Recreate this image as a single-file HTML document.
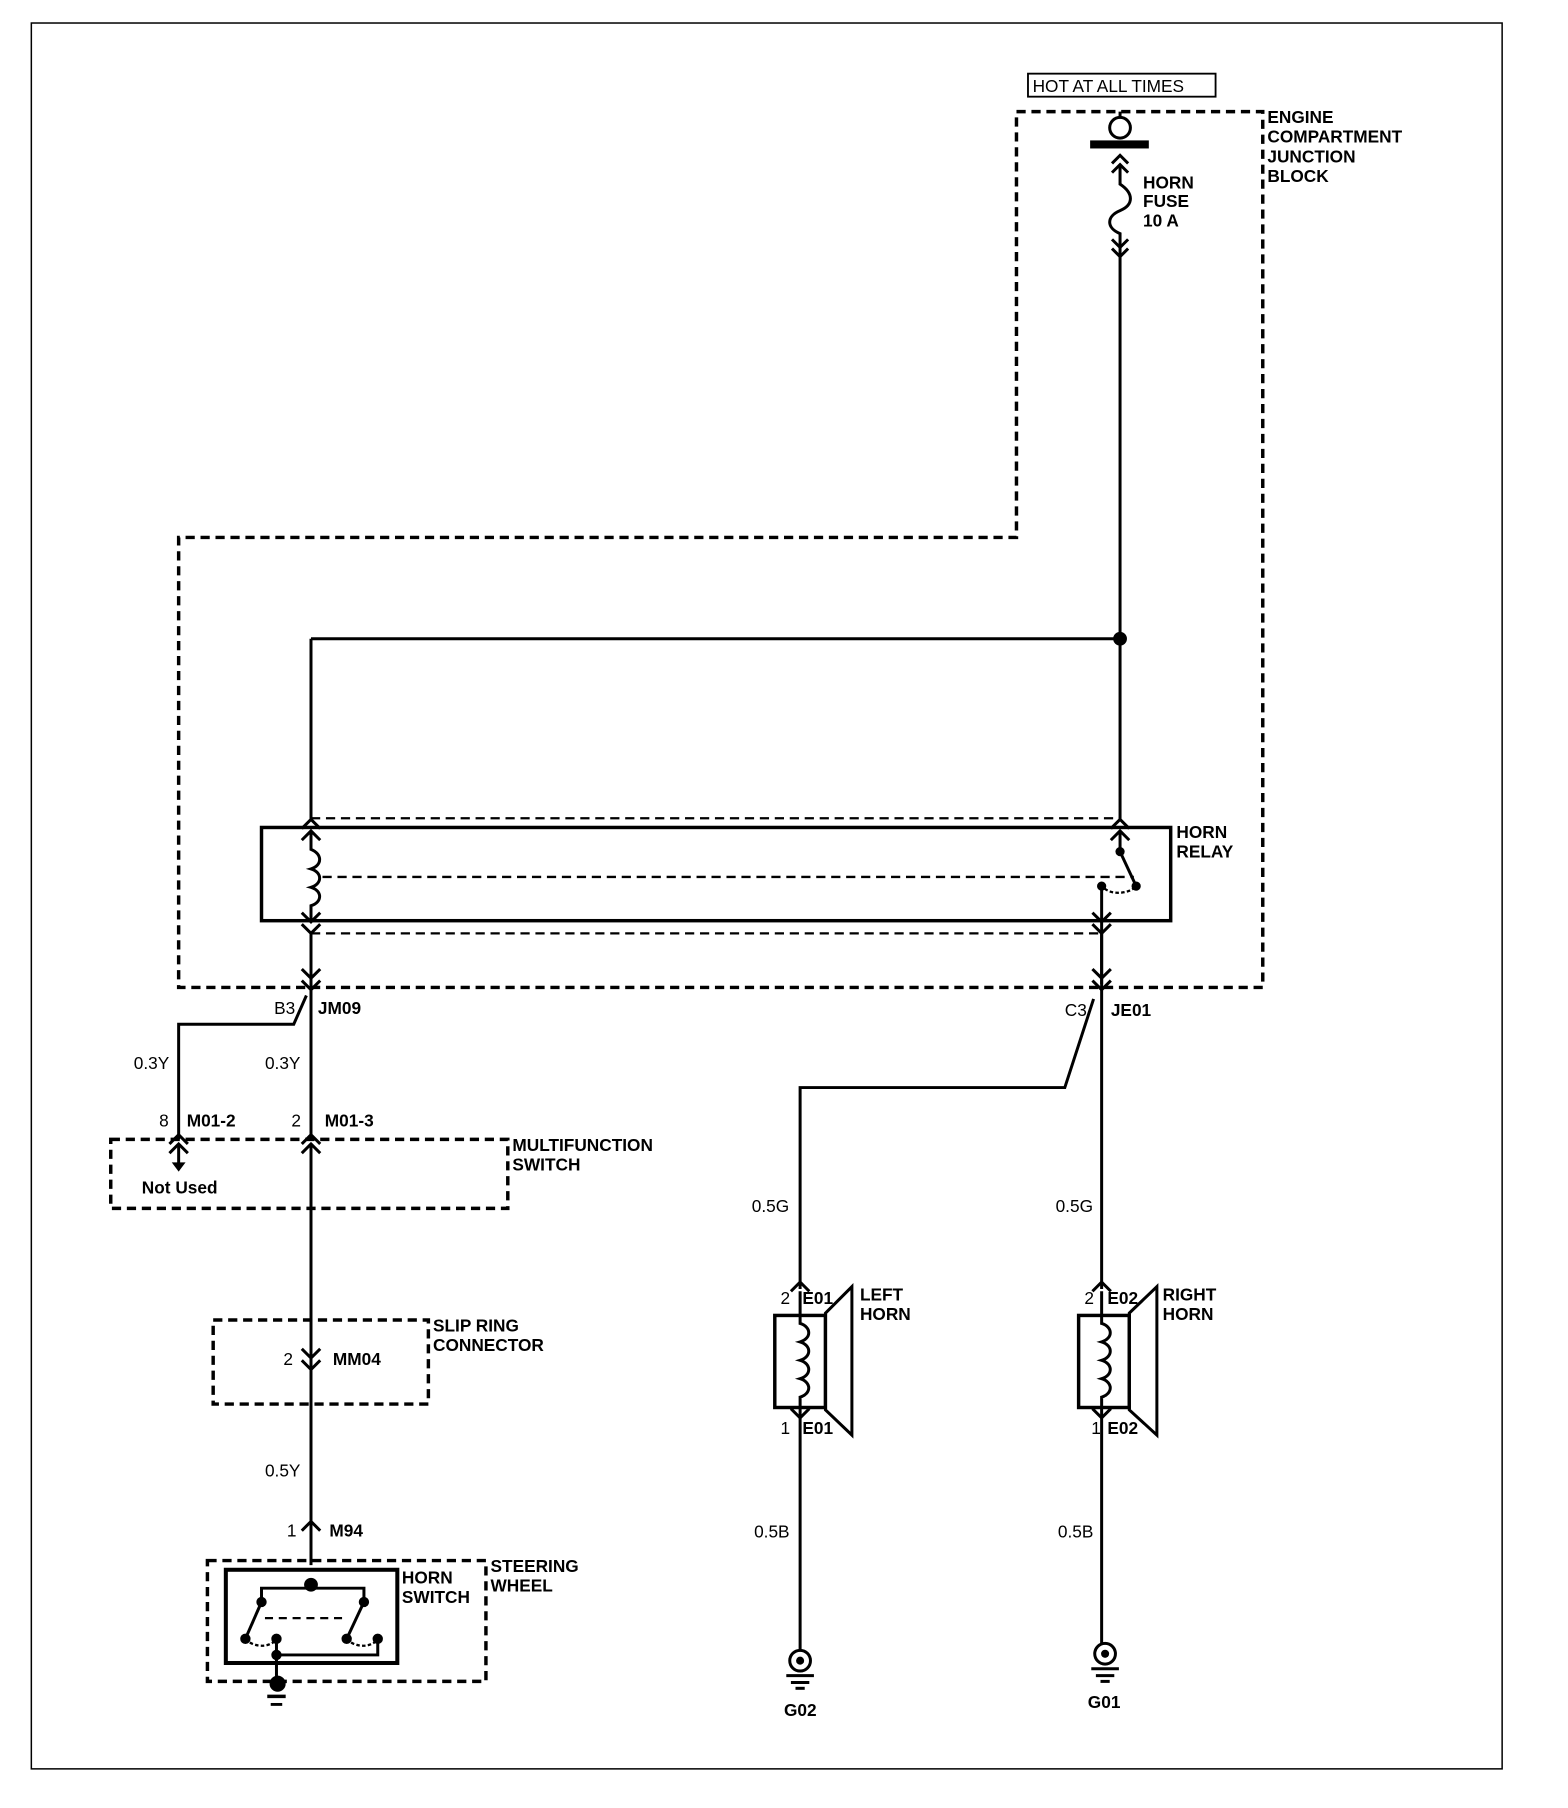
<!DOCTYPE html>
<html><head><meta charset="utf-8"><style>
html,body{margin:0;padding:0;background:#fff}
svg{display:block}
text{font-family:"Liberation Sans",Arial,sans-serif;font-weight:bold;font-size:15px;fill:#000}
.r{font-weight:normal}
</style></head><body>
<svg width="1568" height="1808" viewBox="0 0 1362 1571" xmlns="http://www.w3.org/2000/svg">
<g fill="none" stroke="#000" stroke-width="2.6">
<!-- frame -->
<rect x="27" y="20" width="1278" height="1517" stroke-width="1.3"/>
<!-- hot box -->
<rect x="893" y="64" width="163" height="20" stroke-width="1.6"/>
<!-- engine block dashed -->
<path d="M883,97 L1097,97 L1097,858 L155,858 L155,467 L883,467 Z" stroke-dasharray="8,5" stroke-width="3"/>
<!-- fuse -->
<circle cx="973" cy="111" r="9"/>
<line x1="973" y1="97" x2="973" y2="102"/>
<path d="M966,142 L973,135 L980,142 M966,150 L973,143 L980,150"/>
<path d="M973,143 L973,160 C985,168 985,178 973,183 C961,188 961,198 973,203 L973,222"/>
<path d="M966,208 L973,215 L980,208 M966,216 L973,223 L980,216"/>
<line x1="973" y1="222" x2="973" y2="712"/>
<line x1="270" y1="555" x2="973" y2="555"/>
<line x1="270" y1="555" x2="270" y2="712"/>
<!-- relay -->
<rect x="227" y="719" width="790" height="81" stroke-width="3"/>
<path d="M270,711 L973,711 M270,811 L957,811" stroke-dasharray="8,5" stroke-width="2"/>
<path d="M280,762 L985,762" stroke-dasharray="8,5" stroke-width="2"/>
<path d="M262,720 L270,712 L278,720 M262,730 L270,722 L278,730"/>
<path d="M270,722 L270,738 C280,742 280,752 270,755 C280,758 280,768 270,771 C280,774 280,784 270,787 L270,800"/>
<path d="M262,793 L270,801 L278,793 M262,803 L270,811 L278,803"/>
<path d="M965,720 L973,712 L981,720 M965,730 L973,722 L981,730"/>
<line x1="973" y1="722" x2="973" y2="740"/>
<line x1="973" y1="740" x2="987" y2="770"/>
<path d="M957,768 C960,778 980,778 987,770" stroke-dasharray="3,2" stroke-width="2"/>
<line x1="957" y1="768" x2="957" y2="855"/>
<path d="M949,793 L957,801 L965,793 M949,803 L957,811 L965,803"/>
<!-- JM09 -->
<path d="M262,842 L270,850 L278,842 M262,852 L270,860 L278,852"/>
<line x1="270" y1="811" x2="270" y2="990"/>
<path d="M266,865 L255,890 L155,890 L155,990"/>
<!-- M01 chevrons -->
<path d="M147,994 L155,986 L163,994 M147,1002 L155,994 L163,1002"/>
<path d="M262,994 L270,986 L278,994 M262,1002 L270,994 L278,1002"/>
<line x1="155" y1="994" x2="155" y2="1012"/>
<line x1="270" y1="994" x2="270" y2="1360"/>
<rect x="96" y="990" width="345" height="60" stroke-dasharray="8,5" stroke-width="3"/>
<!-- slip ring -->
<rect x="185" y="1147" width="187" height="73" stroke-dasharray="8,5" stroke-width="3"/>
<path d="M262,1172 L270,1180 L278,1172 M262,1182 L270,1190 L278,1182"/>
<path d="M262,1330 L270,1322 L278,1330"/>
<!-- steering wheel -->
<rect x="180" y="1356" width="242" height="105" stroke-dasharray="8,5" stroke-width="3"/>
<rect x="196" y="1364" width="149" height="81" stroke-width="3.5"/>
<path d="M227,1392 L227,1380 L316,1380 L316,1392"/>
<line x1="227" y1="1392" x2="213" y2="1424"/>
<line x1="316" y1="1392" x2="301" y2="1424"/>
<line x1="230" y1="1406" x2="300" y2="1406" stroke-dasharray="7,5" stroke-width="2"/>
<path d="M213,1424 C220,1432 235,1432 240,1424 M301,1424 C308,1432 323,1432 328,1424" stroke-dasharray="3,2" stroke-width="2"/>
<path d="M240,1424 L240,1464 M240,1438 L328,1438 L328,1424"/>
<line x1="232" y1="1474" x2="248" y2="1474" stroke-width="3"/>
<line x1="235" y1="1481" x2="245" y2="1481" stroke-width="2.5"/>
<!-- JE01 -->
<path d="M949,842 L957,850 L965,842 M949,852 L957,860 L965,852"/>
<line x1="957" y1="811" x2="957" y2="1120"/>
<path d="M950,868 L925,945 L695,945 L695,1120"/>
<!-- left horn -->
<path d="M687,1122 L695,1114 L703,1122"/>
<rect x="673" y="1143" width="44" height="80" stroke-width="3"/>
<path d="M717,1141 L740,1118 L740,1247 L717,1225 Z"/>
<path d="M695,1122 L695,1150 C705,1153 705,1163 695,1166 C705,1169 705,1179 695,1182 C705,1185 705,1195 695,1198 C705,1201 705,1211 695,1214 L695,1232"/>
<path d="M687,1224 L695,1232 L703,1224"/>
<line x1="695" y1="1232" x2="695" y2="1434"/>
<circle cx="695" cy="1443" r="9"/>
<line x1="683" y1="1456" x2="707" y2="1456"/>
<line x1="687" y1="1462" x2="703" y2="1462"/>
<line x1="691" y1="1467" x2="699" y2="1467"/>
<!-- right horn -->
<path d="M949,1122 L957,1114 L965,1122"/>
<rect x="937" y="1143" width="44" height="80" stroke-width="3"/>
<path d="M981,1141 L1005,1118 L1005,1247 L981,1225 Z"/>
<path d="M957,1122 L957,1150 C967,1153 967,1163 957,1166 C967,1169 967,1179 957,1182 C967,1185 967,1195 957,1198 C967,1201 967,1211 957,1214 L957,1232"/>
<path d="M949,1224 L957,1232 L965,1224"/>
<line x1="957" y1="1232" x2="957" y2="1428"/>
<circle cx="960" cy="1437" r="9"/>
<line x1="948" y1="1450" x2="972" y2="1450"/>
<line x1="952" y1="1456" x2="968" y2="1456"/>
<line x1="956" y1="1461" x2="964" y2="1461"/>
</g>
<g fill="#000">
<rect x="947" y="122" width="51" height="7"/>
<circle cx="973" cy="555" r="6"/>
<circle cx="973" cy="740" r="4"/><circle cx="987" cy="770" r="4"/><circle cx="957" cy="770" r="4"/>
<path d="M149,1010 L161,1010 L155,1018 Z"/>
<circle cx="270" cy="1377" r="6"/>
<circle cx="227" cy="1392" r="4.5"/><circle cx="316" cy="1392" r="4.5"/>
<circle cx="213" cy="1424" r="4.5"/><circle cx="240" cy="1424" r="4.5"/>
<circle cx="301" cy="1424" r="4.5"/><circle cx="328" cy="1424" r="4.5"/>
<circle cx="240" cy="1438" r="4.5"/>
<circle cx="241" cy="1463" r="7"/>
<circle cx="695" cy="1443" r="3.5"/>
<circle cx="960" cy="1437" r="3.5"/>
</g>
<text x="897" y="80" class="r" font-size="15">HOT AT ALL TIMES</text>
<text x="1101" y="107">ENGINE</text>
<text x="1101" y="124">COMPARTMENT</text>
<text x="1101" y="141">JUNCTION</text>
<text x="1101" y="158">BLOCK</text>
<text x="993" y="164">HORN</text>
<text x="993" y="180">FUSE</text>
<text x="993" y="197">10 A</text>
<text x="1022" y="728">HORN</text>
<text x="1022" y="745">RELAY</text>
<text x="238" y="881" class="r">B3</text>
<text x="276" y="881">JM09</text>
<text x="925" y="883" class="r">C3</text>
<text x="965" y="883">JE01</text>
<text x="116" y="929" class="r">0.3Y</text>
<text x="230" y="929" class="r">0.3Y</text>
<text x="138" y="979" class="r">8</text>
<text x="162" y="979">M01-2</text>
<text x="253" y="979" class="r">2</text>
<text x="282" y="979">M01-3</text>
<text x="445" y="1000">MULTIFUNCTION</text>
<text x="445" y="1017">SWITCH</text>
<text x="123" y="1037">Not Used</text>
<text x="376" y="1157">SLIP RING</text>
<text x="376" y="1174">CONNECTOR</text>
<text x="246" y="1186" class="r">2</text>
<text x="289" y="1186">MM04</text>
<text x="230" y="1283" class="r">0.5Y</text>
<text x="249" y="1335" class="r">1</text>
<text x="286" y="1335">M94</text>
<text x="349" y="1376">HORN</text>
<text x="349" y="1393">SWITCH</text>
<text x="426" y="1366">STEERING</text>
<text x="426" y="1383">WHEEL</text>
<text x="653" y="1053" class="r">0.5G</text>
<text x="917" y="1053" class="r">0.5G</text>
<text x="678" y="1133" class="r">2</text>
<text x="697" y="1133">E01</text>
<text x="747" y="1130">LEFT</text>
<text x="747" y="1147">HORN</text>
<text x="678" y="1246" class="r">1</text>
<text x="697" y="1246">E01</text>
<text x="942" y="1133" class="r">2</text>
<text x="962" y="1133">E02</text>
<text x="1010" y="1130">RIGHT</text>
<text x="1010" y="1147">HORN</text>
<text x="948" y="1246" class="r">1</text>
<text x="962" y="1246">E02</text>
<text x="655" y="1336" class="r">0.5B</text>
<text x="919" y="1336" class="r">0.5B</text>
<text x="681" y="1491">G02</text>
<text x="945" y="1484">G01</text>
</svg>
</body></html>
